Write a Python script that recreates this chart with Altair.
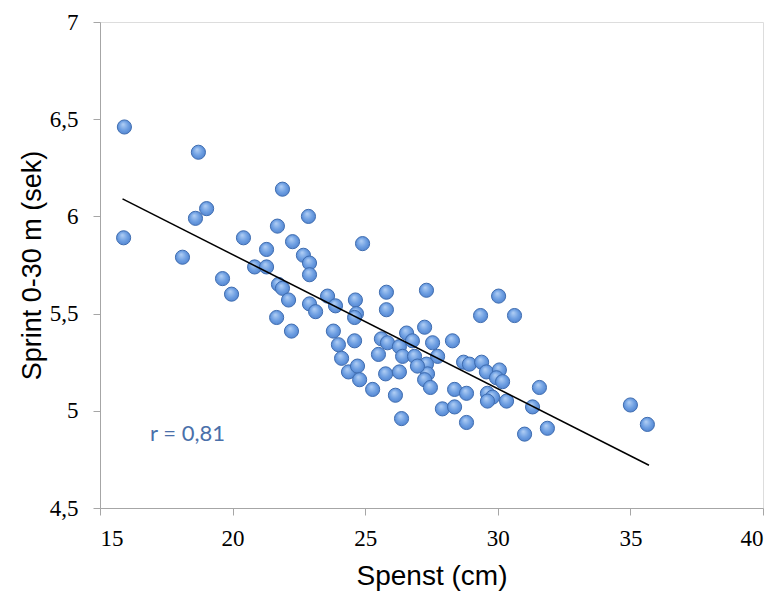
import altair as alt
import pandas as pd

# Spenst (cm) and Sprint 0-30 m (sek)
spenst = [15.92, 15.89, 18.71, 19.02, 18.60, 18.11, 20.41, 19.62, 19.96, 20.83,
          21.88, 22.86, 21.69, 22.26, 21.28, 24.90, 22.67, 22.90, 22.90, 21.28,
          21.73, 21.88, 22.11, 22.90, 23.13, 23.58, 23.88, 24.63, 24.67, 24.60,
          21.66, 22.22, 23.80, 23.99, 24.60, 25.80, 25.80, 27.31, 24.11, 24.37,
          24.71, 24.79, 25.28, 25.61, 25.84, 25.50, 26.29, 26.41, 26.56, 26.78,
          26.86, 27.24, 27.54, 27.73, 27.31, 27.35, 27.24, 27.46, 25.77, 26.29,
          26.14, 26.37, 28.29, 28.37, 27.91, 28.37, 30.03, 29.35, 30.63, 26.97,
          28.71, 28.93, 29.39, 29.57, 30.06, 29.95, 30.18, 28.82, 28.82, 29.61,
          29.80, 29.61, 30.33, 31.57, 31.31, 31.01, 31.87, 35.00, 35.64]
sprint = [6.46, 5.89, 6.33, 6.04, 5.99, 5.79, 5.89, 5.68, 5.60, 5.74,
          6.14, 6.00, 5.95, 5.87, 5.83, 5.86, 5.80, 5.76, 5.70, 5.74,
          5.65, 5.63, 5.57, 5.55, 5.51, 5.59, 5.54, 5.57, 5.50, 5.48,
          5.48, 5.41, 5.41, 5.34, 5.36, 5.61, 5.52, 5.62, 5.27, 5.20,
          5.23, 5.16, 5.11, 5.37, 5.35, 5.29, 5.33, 5.28, 5.40, 5.36,
          5.28, 5.43, 5.35, 5.28, 5.24, 5.19, 5.16, 5.12, 5.19, 5.20,
          5.08, 4.96, 5.36, 5.11, 5.01, 5.02, 5.59, 5.49, 5.49, 5.23,
          5.25, 5.24, 5.25, 5.20, 5.21, 5.17, 5.15, 5.09, 4.94, 5.09,
          5.07, 5.05, 5.05, 5.12, 5.02, 4.88, 4.91, 5.03, 4.93]

trend_x = [15.85, 35.7]
trend_y = [6.09, 4.72]

ann_x = [18.3]
ann_y = [4.88]
ann_label = ["r = 0,81"]

x_ticks = [15, 20, 25, 30, 35, 40]
y_ticks = [4.5, 5, 5.5, 6, 6.5, 7]

df = pd.DataFrame({"Spenst": spenst, "Sprint": sprint})
trend = pd.DataFrame({"x": trend_x, "y": trend_y})
ann = pd.DataFrame({"x": ann_x, "y": ann_y, "label": ann_label})

x_scale = alt.Scale(domain=[15, 40], nice=False, zero=False)
y_scale = alt.Scale(domain=[4.5, 7], nice=False, zero=False)

axis_common = dict(
    grid=False, domainColor="#A6A6A6", tickColor="#A6A6A6", tickSize=7,
    labelFont="Liberation Serif", labelFontSize=23, labelColor="black",
    titleFont="Liberation Sans", titleFontWeight="normal",
    titleColor="black",
)

x_axis = alt.Axis(title="Spenst (cm)", values=x_ticks, labelPadding=12,
                  titlePadding=12, titleFontSize=28, **axis_common)
y_axis = alt.Axis(title="Sprint 0-30 m (sek)", values=y_ticks, labelPadding=15,
                  titlePadding=3, titleFontSize=27,
                  labelExpr="replace(format(datum.value, '.1~f'), '.', ',')",
                  **axis_common)

grad = alt.RadialGradient(
    gradient="radial",
    stops=[alt.GradientStop(offset=0, color="#B3D0F5"),
           alt.GradientStop(offset=0.55, color="#6E9FE2"),
           alt.GradientStop(offset=1, color="#4A7DCB")],
    x1=0.4, y1=0.3, r1=0, x2=0.5, y2=0.5, r2=0.6,
)

points = alt.Chart(df).mark_circle(
    size=200, fill=grad, opacity=1, stroke="#3F6DB0", strokeWidth=1
).encode(
    x=alt.X("Spenst:Q", scale=x_scale, axis=x_axis),
    y=alt.Y("Sprint:Q", scale=y_scale, axis=y_axis),
)

line = alt.Chart(trend).mark_line(color="black", strokeWidth=1.5).encode(
    x=alt.X("x:Q", scale=x_scale),
    y=alt.Y("y:Q", scale=y_scale),
)

text = alt.Chart(ann).mark_text(
    font="Lato", fontSize=22, color="#4A70AA", align="center", baseline="middle"
).encode(
    x=alt.X("x:Q", scale=x_scale),
    y=alt.Y("y:Q", scale=y_scale),
    text="label:N",
)

chart = alt.layer(points, line, text).properties(
    width=663, height=486,
    autosize=alt.AutoSizeParams(type="none"),
    padding={"left": 100, "top": 22, "right": 10, "bottom": 88},
).configure_view(stroke=None).configure(background="white")

chart.save("out.html", embed_options={"renderer": "svg", "actions": False})
